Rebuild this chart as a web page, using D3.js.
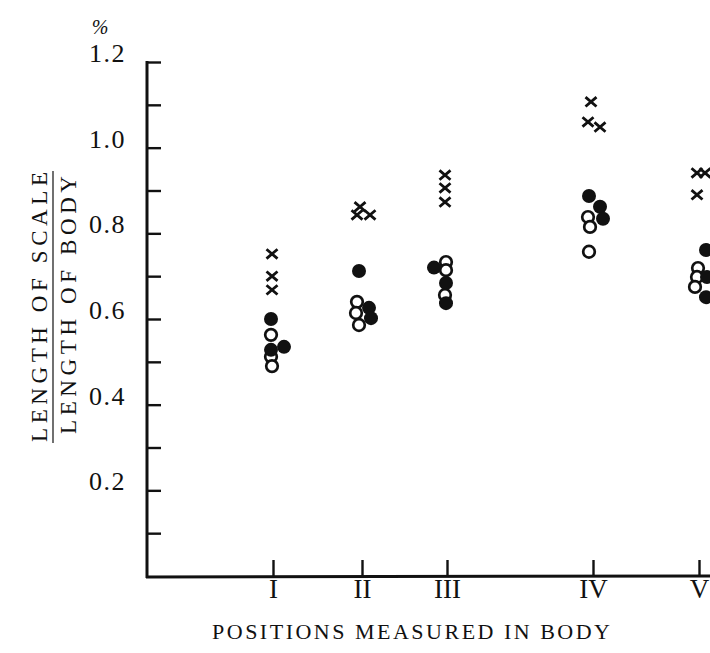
<!DOCTYPE html>
<html>
<head>
<meta charset="utf-8">
<script src="https://cdn.jsdelivr.net/npm/d3@7"></script>
<style>
  html, body { margin: 0; padding: 0; background: #fff; }
  svg { display: block; }
</style>
</head>
<body>
<svg id="chart" width="710" height="653"></svg>
<script>
// ---- data ----
const categories = ["I", "II", "III", "IV", "V"];
const categoryPos = [2.52, 4.30, 6.00, 8.92, 11.04];
const yTickValues = [0.1, 0.2, 0.3, 0.4, 0.5, 0.6, 0.7, 0.8, 0.9, 1.0, 1.1, 1.2];
const yTickLabels = ["0.2", "0.4", "0.6", "0.8", "1.0", "1.2"];

// [x position along body axis, ratio value]
const crossPoints = [
  [2.50, 0.752], [2.50, 0.700], [2.50, 0.668],
  [4.26, 0.862], [4.20, 0.843], [4.46, 0.843],
  [5.96, 0.936], [5.96, 0.906], [5.96, 0.873],
  [8.88, 1.107], [8.82, 1.060], [9.06, 1.048],
  [11.00, 0.941], [11.16, 0.941], [11.00, 0.890]
];
const openPoints = [
  [2.48, 0.563], [2.48, 0.512], [2.50, 0.490],
  [4.20, 0.640], [4.18, 0.614], [4.24, 0.586],
  [5.98, 0.733], [5.98, 0.714], [5.96, 0.656],
  [8.82, 0.838], [8.86, 0.815], [8.84, 0.757],
  [11.02, 0.719], [11.00, 0.698], [10.96, 0.675]
];
const filledPoints = [
  [2.48, 0.600], [2.48, 0.528], [2.74, 0.535],
  [4.24, 0.712], [4.44, 0.626], [4.48, 0.602],
  [5.74, 0.720], [5.98, 0.684], [5.98, 0.637],
  [8.84, 0.887], [9.06, 0.862], [9.12, 0.834],
  [11.18, 0.761], [11.20, 0.698], [11.18, 0.651]
];

// ---- layout ----
const svg = d3.select("#chart");
const x0 = 147, xEnd = 712, yBase = 576, yTop = 62;
const x = d3.scaleLinear().domain([0, 11.3]).range([x0, x0 + 11.3 * 50]);
const y = d3.scaleLinear().domain([0, 1.2]).range([yBase, yTop]);
const ink = "#111";
const serif = "'Liberation Serif', 'DejaVu Serif', serif";

// y axis
const yAxis = d3.axisRight(y).tickValues(yTickValues).tickSize(14).tickFormat("");
const gy = svg.append("g").attr("transform", `translate(${x0},0)`).call(yAxis);
gy.select(".domain").remove();
gy.selectAll(".tick line").attr("stroke", ink).attr("stroke-width", 2.4);
svg.append("line").attr("x1", x0).attr("x2", x0).attr("y1", y(1.2) - 1).attr("y2", yBase + 2)
  .attr("stroke", ink).attr("stroke-width", 3);

// y tick labels
svg.append("g").selectAll("text").data(yTickLabels).join("text")
  .attr("x", 126).attr("y", d => y(+d) - 6)
  .attr("text-anchor", "end").attr("dominant-baseline", "middle")
  .attr("font-family", serif).attr("font-size", 26).attr("letter-spacing", 1.5)
  .attr("fill", ink).text(d => d);

svg.append("text").attr("x", 100).attr("y", 34)
  .attr("text-anchor", "middle").attr("font-family", serif).attr("font-style", "italic")
  .attr("font-size", 20).attr("fill", ink).text("%");

// x axis
svg.append("line").attr("x1", x0 - 1).attr("x2", xEnd).attr("y1", yBase + 1).attr("y2", yBase)
  .attr("stroke", ink).attr("stroke-width", 3);
const xAxis = d3.axisTop(x).tickValues(categoryPos).tickSize(16)
  .tickFormat((d, i) => categories[i]);
const gx = svg.append("g").attr("transform", `translate(0,${yBase})`).call(xAxis);
gx.select(".domain").remove();
gx.selectAll(".tick line").attr("stroke", ink).attr("stroke-width", 2.4);
gx.selectAll(".tick text").attr("y", 16).attr("dy", "0")
  .attr("font-family", serif).attr("font-size", 27).attr("fill", ink)
  .attr("dominant-baseline", "middle");

// axis titles
svg.append("text").attr("x", 411).attr("y", 639)
  .attr("text-anchor", "middle").attr("font-family", serif).attr("font-size", 22)
  .attr("textLength", 398).attr("lengthAdjust", "spacing")
  .attr("fill", ink).text("POSITIONS MEASURED IN BODY");

const yt = svg.append("g").attr("transform", "translate(0,307) rotate(-90)");
yt.append("text").attr("x", 0).attr("y", 47)
  .attr("text-anchor", "middle").attr("font-family", serif).attr("font-size", 23)
  .attr("textLength", 270).attr("lengthAdjust", "spacing")
  .attr("fill", ink).text("LENGTH OF SCALE");
yt.append("line").attr("x1", -136).attr("x2", 136).attr("y1", 53).attr("y2", 53)
  .attr("stroke", ink).attr("stroke-width", 1.2);
yt.append("text").attr("x", 2).attr("y", 76)
  .attr("text-anchor", "middle").attr("font-family", serif).attr("font-size", 23)
  .attr("textLength", 258).attr("lengthAdjust", "spacing")
  .attr("fill", ink).text("LENGTH OF BODY");

// points
const crossHalf = 5.5;
svg.append("g").selectAll("path").data(crossPoints).join("path")
  .attr("transform", d => `translate(${x(d[0])},${y(d[1])})`)
  .attr("d", `M${-crossHalf},${-crossHalf * 0.85}L${crossHalf},${crossHalf * 0.85}M${crossHalf},${-crossHalf * 0.85}L${-crossHalf},${crossHalf * 0.85}`)
  .attr("stroke", ink).attr("stroke-width", 2.8).attr("fill", "none");

svg.append("g").selectAll("circle").data(openPoints).join("circle")
  .attr("cx", d => x(d[0])).attr("cy", d => y(d[1])).attr("r", 5.8)
  .attr("fill", "#fff").attr("stroke", ink).attr("stroke-width", 2.7);

svg.append("g").selectAll("circle").data(filledPoints).join("circle")
  .attr("cx", d => x(d[0])).attr("cy", d => y(d[1])).attr("r", 7)
  .attr("fill", ink);
</script>
</body>
</html>
